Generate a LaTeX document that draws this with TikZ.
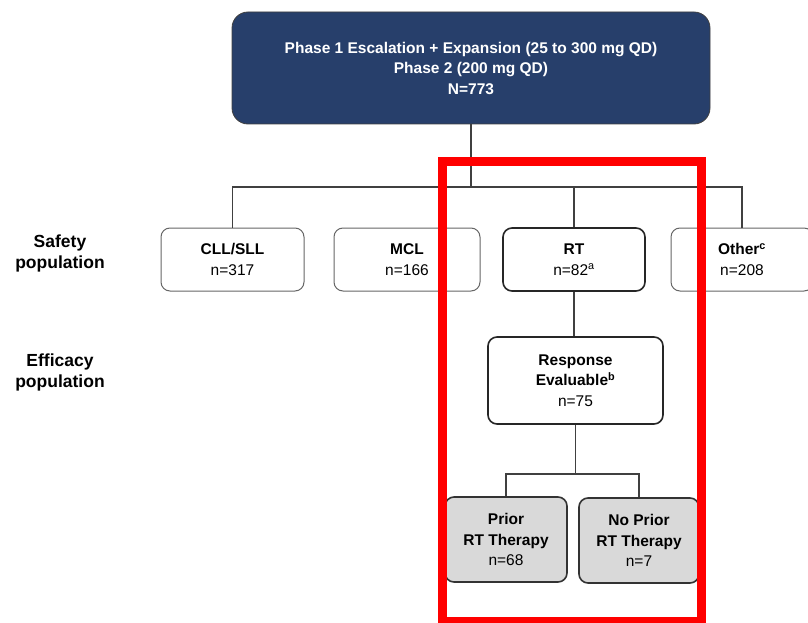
\documentclass[tikz,border=0pt]{standalone}
\usepackage{fontspec}
\setmainfont{Liberation Sans}
\definecolor{navy}{HTML}{273F6B}
\definecolor{boxgray}{HTML}{D9D9D9}
\definecolor{linegray}{HTML}{404040}
\tikzset{
  base/.style={rounded corners=9pt, align=center, inner sep=0pt, font=\fontsize{15.5}{20.5}\selectfont},
  topbox/.style={base, fill=navy, draw=linegray, line width=0.8pt, text=white, rounded corners=16pt},
  whitebox/.style={base, fill=white, draw=linegray!80, line width=1pt},
  keybox/.style={base, fill=white, draw=black!85, line width=1.6pt},
  graybox/.style={base, fill=boxgray, draw=black!80, line width=1.6pt},
  conn/.style={draw=linegray, line width=1.1pt},
  sidelabel/.style={align=center, font=\fontsize{17.5}{21}\selectfont\bfseries},
  frame/.style={draw=red, line width=9pt}
}
\begin{document}
\begin{tikzpicture}[x=1pt,y=-1pt]
\path[use as bounding box] (0,0) rectangle (808,623);
\clip (0,0) rectangle (808,623);

\node[topbox, minimum width=478pt, minimum height=112pt] (top) at (471,68)
  {\textbf{Phase 1 Escalation + Expansion (25 to 300 mg QD)}\\\textbf{Phase 2 (200 mg QD)}\\\textbf{N=773}};

\node[whitebox, minimum width=143pt, minimum height=63pt] (cll) at (232.5,259.5) {\textbf{CLL/SLL}\\n=317};
\node[whitebox, minimum width=146pt, minimum height=63pt] (mcl) at (407,259.5) {\textbf{MCL}\\n=166};
\node[keybox, minimum width=142pt, minimum height=63pt] (rt) at (574,259.5) {\textbf{RT}\\n=82\textsuperscript{a}};
\node[whitebox, minimum width=142pt, minimum height=63pt] (oth) at (742,259.5) {\textbf{Other\textsuperscript{c}}\\n=208};

\node[keybox, minimum width=175pt, minimum height=87pt] (resp) at (575.5,380.5) {\textbf{Response}\\\textbf{Evaluable\textsuperscript{b}}\\n=75};

\node[graybox, minimum width=122pt, minimum height=85pt] (prior) at (506,539.5) {\textbf{Prior}\\\textbf{RT Therapy}\\n=68};
\node[graybox, minimum width=120pt, minimum height=85pt] (noprior) at (639,540.5) {\textbf{No Prior}\\\textbf{RT Therapy}\\n=7};

\node[sidelabel] (safety) at (60,253.5) {Safety\\population};
\node[sidelabel] (efficacy) at (60,372.5) {Efficacy\\population};

\coordinate (busL) at (232.5,187);
\coordinate (busR) at (742,187);
\draw[conn] (cll.north) -- (busL) -- (busR) -- (oth.north);
\draw[conn] (top.south) -- (top.south |- busL);
\draw[conn] (rt.north) -- (rt.north |- busL);
\draw[conn] (rt.south) -- (rt.south |- resp.north);
\coordinate (bus2) at (575.5,474);
\draw[conn] (resp.south) -- (bus2);
\draw[conn] (prior.north) -- (prior.north |- bus2) -- (noprior.north |- bus2) -- (noprior.north);

\draw[frame] (442,161.5) rectangle (701.5,621);
\end{tikzpicture}
\end{document}
